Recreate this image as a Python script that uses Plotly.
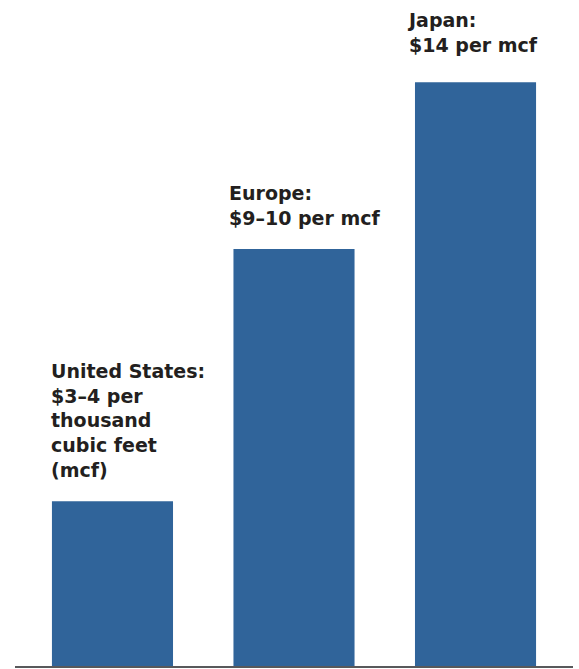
import plotly.graph_objects as go

categories = ["United States", "Europe", "Japan"]
prices = [3.95, 10.0, 14.0]
labels = [
    "United States:<br>$3–4 per<br>thousand<br>cubic feet<br>(mcf)",
    "Europe:<br>$9–10 per mcf",
    "Japan:<br>$14 per mcf",
]

bar_color = "#30649a"
text_color = "#231f20"

fig = go.Figure(go.Bar(x=list(range(len(categories))), y=prices,
                       marker=dict(color=bar_color, line=dict(width=0)),
                       width=0.667, hoverinfo="skip"))

yshifts = [18, 18, 24]
xshifts = [-3, -6, -10]
for i, (lab, v) in enumerate(zip(labels, prices)):
    fig.add_annotation(x=i - 0.3335, y=v, text=lab, showarrow=False,
                       xanchor="left", yanchor="bottom", align="left",
                       xshift=xshifts[i], yshift=yshifts[i],
                       font=dict(family="DejaVu Sans", size=19, color=text_color,
                                 weight="bold"))

fig.update_layout(
    width=579, height=669,
    margin=dict(l=15, r=6, t=0, b=3),
    paper_bgcolor="white", plot_bgcolor="white",
    showlegend=False,
    hovermode=False,
    xaxis=dict(range=[-0.537, 2.537], showticklabels=False, showgrid=False,
               zeroline=False, showline=True, linecolor="#58595b", linewidth=2,
               ticks=""),
    yaxis=dict(range=[0, 15.97], visible=False, showgrid=False, zeroline=False),
)

fig.write_html("out.html",
               config={"displayModeBar": False, "staticPlot": True},
               post_script="document.body.style.margin='0';")
